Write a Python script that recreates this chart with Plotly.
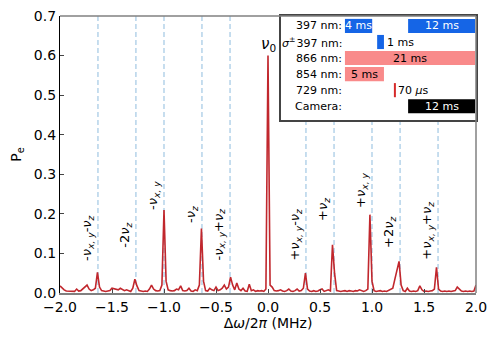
import numpy as np
import plotly.graph_objects as go

# detuning grid (MHz) and excitation probability
freq = np.round(np.arange(-2.0, 2.0001, 0.02), 2)
pe = [
    0.018, 0.012, 0.008, 0.005, 0.005, 0.005, 0.004, 0.004, 0.010, 0.005,
    0.006, 0.010, 0.015, 0.020, 0.010, 0.006, 0.008, 0.012, 0.052, 0.015,
    0.006, 0.005, 0.004, 0.005, 0.006, 0.012, 0.010, 0.010, 0.008, 0.012,
    0.008, 0.006, 0.008, 0.005, 0.004, 0.012, 0.035, 0.018, 0.006, 0.005,
    0.004, 0.005, 0.004, 0.010, 0.020, 0.010, 0.006, 0.005, 0.006, 0.020,
    0.210, 0.030, 0.008, 0.006, 0.005, 0.006, 0.010, 0.008, 0.018, 0.006,
    0.005, 0.006, 0.012, 0.005, 0.004, 0.008, 0.006, 0.020, 0.163, 0.030,
    0.006, 0.005, 0.012, 0.008, 0.006, 0.015, 0.006, 0.008, 0.012, 0.020,
    0.010, 0.015, 0.040, 0.020, 0.008, 0.025, 0.010, 0.006, 0.012, 0.005,
    0.004, 0.022, 0.006, 0.008, 0.004, 0.006, 0.005, 0.006, 0.004, 0.010,
    0.600, 0.020, 0.015, 0.006, 0.005, 0.006, 0.008, 0.005, 0.004, 0.006,
    0.010, 0.005, 0.004, 0.006, 0.010, 0.005, 0.006, 0.012, 0.050, 0.010,
    0.005, 0.004, 0.006, 0.004, 0.005, 0.008, 0.010, 0.004, 0.006, 0.008,
    0.005, 0.122, 0.050, 0.006, 0.005, 0.004, 0.005, 0.006, 0.004, 0.006,
    0.005, 0.004, 0.006, 0.005, 0.008, 0.005, 0.004, 0.006, 0.010, 0.198,
    0.030, 0.006, 0.004, 0.005, 0.006, 0.004, 0.005, 0.004, 0.006, 0.010,
    0.012, 0.035, 0.058, 0.080, 0.020, 0.006, 0.004, 0.012, 0.005, 0.004,
    0.005, 0.004, 0.006, 0.018, 0.008, 0.004, 0.005, 0.004, 0.005, 0.006,
    0.010, 0.065, 0.010, 0.005, 0.004, 0.005, 0.004, 0.005, 0.004, 0.005,
    0.006, 0.015, 0.010, 0.005, 0.004, 0.005, 0.004, 0.005, 0.004, 0.005,
    0.020,
]

# motional sidebands
sb_pos = [-1.635, -1.27, -1.0, -0.635, -0.365, 0.365, 0.635, 1.0, 1.27, 1.635]
sb_text = [
    "-<i>ν</i><sub><i>x, y</i></sub>-<i>ν</i><sub><i>z</i></sub>",
    "-2<i>ν</i><sub><i>z</i></sub>",
    "-<i>ν</i><sub><i>x, y</i></sub>",
    "-<i>ν</i><sub><i>z</i></sub>",
    "-<i>ν</i><sub><i>x, y</i></sub>+<i>ν</i><sub><i>z</i></sub>",
    "+<i>ν</i><sub><i>x, y</i></sub>-<i>ν</i><sub><i>z</i></sub>",
    "+<i>ν</i><sub><i>z</i></sub>",
    "+<i>ν</i><sub><i>x, y</i></sub>",
    "+2<i>ν</i><sub><i>z</i></sub>",
    "+<i>ν</i><sub><i>x, y</i></sub>+<i>ν</i><sub><i>z</i></sub>",
]
sb_label_y = [0.076, 0.109, 0.205, 0.172, 0.076, 0.078, 0.177, 0.21, 0.109, 0.078]

# pulse sequence inset (drawn timeline units)
seq_rows = ["397 nm:", "<i>σ</i><sup>±</sup>\u200a397 nm:", "866 nm:", "854 nm:", "729 nm:", "Camera:"]
seq_row = [0, 0, 1, 2, 3, 4, 5]
seq_start = [0.0, 10.2, 5.2, 0.0, 0.0, 7.95, 10.2]
seq_end = [4.4, 21.0, 6.3, 21.0, 6.3, 8.15, 21.0]
seq_label = ["4 ms", "12 ms", "1 ms", "21 ms", "5 ms", "70 <i>μ</i>s", "12 ms"]
seq_color = ["#1565e6", "#1565e6", "#1565e6", "#f98a8a", "#f98a8a", "#d62a2a", "#000000"]
seq_textcol = ["white", "white", "black", "black", "black", "black", "white"]
seq_inside = [True, True, False, True, True, False, True]

FONT = "DejaVu Sans"
X_RANGE = [-2, 2]
Y_RANGE = [0, 0.7]
INSET_X = [0.531, 1.0]
INSET_Y = [0.6245, 1.0]

fig = go.Figure()

fig.add_trace(go.Scatter(x=freq, y=pe, mode="lines",
                         line=dict(color="#c1272d", width=1.6)))

# inset bars
fig.add_trace(go.Bar(
    y=seq_row, base=seq_start,
    x=[e - s for s, e in zip(seq_start, seq_end)],
    orientation="h", width=0.88, marker=dict(color=seq_color, line=dict(width=0)),
    xaxis="x2", yaxis="y2",
))

# dashed guide lines stop where the inset box begins
inset_left = X_RANGE[0] + INSET_X[0] * (X_RANGE[1] - X_RANGE[0])
inset_bottom = Y_RANGE[0] + INSET_Y[0] * (Y_RANGE[1] - Y_RANGE[0])
shapes = []
for p in sb_pos:
    top = inset_bottom if p > inset_left else Y_RANGE[1]
    shapes.append(dict(type="line", xref="x", yref="y", x0=p, x1=p, y0=0, y1=top,
                       layer="below", line=dict(color="#a9cce6", width=1.3, dash="5px,3px")))
# gray top / right frame
shapes.append(dict(type="line", xref="paper", yref="paper", x0=1, x1=1, y0=0, y1=1,
                   line=dict(color="#808080", width=1.5)))
shapes.append(dict(type="line", xref="paper", yref="paper", x0=0, x1=1, y0=1, y1=1,
                   line=dict(color="#808080", width=1.5)))

ann = []
for p, t, ly in zip(sb_pos, sb_text, sb_label_y):
    ann.append(dict(x=p, y=ly, xref="x", yref="y", text=t, textangle=-90,
                    showarrow=False, xanchor="right", yanchor="bottom", xshift=0,
                    font=dict(family=FONT, size=13, color="black")))
ann.append(dict(x=0, y=0.598, xref="x", yref="y", text="<i>ν</i><sub>0</sub>",
                showarrow=False, xanchor="center", yanchor="bottom",
                font=dict(family=FONT, size=15, color="black")))

for i, r in enumerate(seq_rows):
    ann.append(dict(x=0, y=i, xref="x2", yref="y2", text=r, showarrow=False,
                    xanchor="right", yanchor="middle", xshift=-1,
                    font=dict(family=FONT, size=11, color="black")))
for r, s, e, t, c, ins in zip(seq_row, seq_start, seq_end, seq_label, seq_textcol, seq_inside):
    if ins:
        ann.append(dict(x=(s + e) / 2, y=r, xref="x2", yref="y2", text=t, showarrow=False,
                        xanchor="center", yanchor="middle",
                        font=dict(family=FONT, size=11, color=c)))
    else:
        ann.append(dict(x=e + 0.1, y=r, xref="x2", yref="y2", text=t, showarrow=False,
                        xanchor="left", yanchor="middle",
                        font=dict(family=FONT, size=11, color=c)))

# page body adds an 8px offset, so the figure is trimmed by that much
fig.update_layout(
    width=490, height=332,
    margin=dict(l=52, r=22, t=8, b=47, autoexpand=False),
    paper_bgcolor="white", plot_bgcolor="white",
    showlegend=False,
    font=dict(family=FONT, size=14, color="black"),
    annotations=ann,
    shapes=shapes,
    xaxis=dict(range=X_RANGE, tickvals=[-2, -1.5, -1, -0.5, 0, 0.5, 1, 1.5, 2],
               tickformat=".1f", ticks="inside", ticklen=4, tickcolor="#444",
               showline=True, linecolor="#808080", linewidth=1.5,
               showgrid=False, zeroline=False, automargin=False,
               ticklabeloverflow="allow",
               title=dict(text="Δ<i>ω</i>/2<i>π</i> (MHz)", standoff=2,
                          font=dict(size=14))),
    yaxis=dict(range=Y_RANGE, dtick=0.1, tickformat=".1f", ticks="inside", ticklen=4,
               showline=True, linecolor="black", linewidth=1.2,
               showgrid=False, zeroline=False, automargin=False,
               ticklabeloverflow="allow",
               title=dict(text="P<sub>e</sub>", standoff=8, font=dict(size=14))),
    xaxis2=dict(domain=INSET_X, range=[-10.34, 21.16], anchor="y2",
                showticklabels=False, ticks="", showgrid=False, zeroline=False,
                showline=True, linecolor="#444", linewidth=1.5, mirror=True),
    yaxis2=dict(domain=INSET_Y, range=[5.86, -0.62], anchor="x2",
                showticklabels=False, ticks="", showgrid=False, zeroline=False,
                showline=True, linecolor="#444", linewidth=1.5, mirror=True),
)

fig.write_html("out.html")
